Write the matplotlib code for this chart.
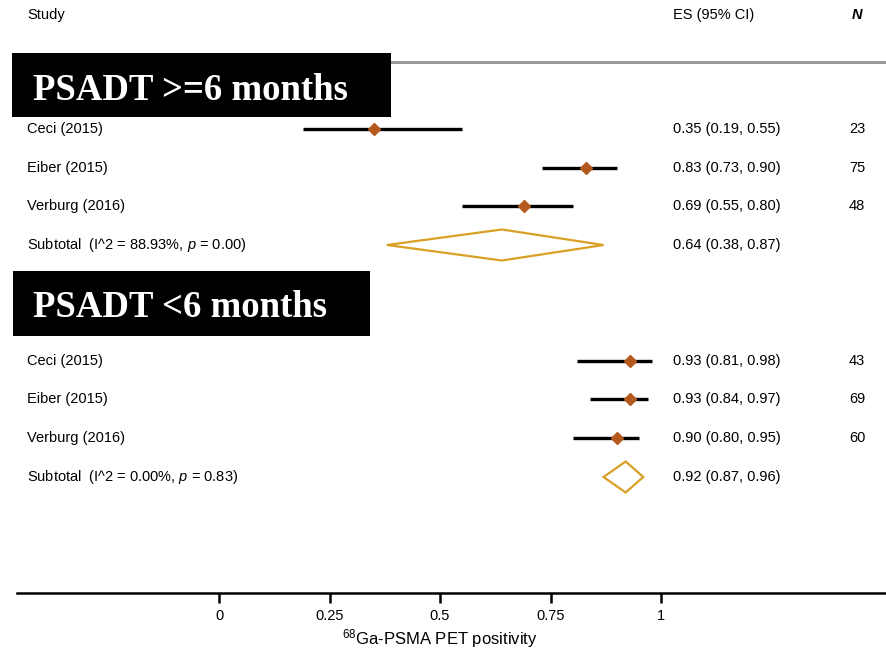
import matplotlib
matplotlib.use('Agg')
import matplotlib.pyplot as plt
from matplotlib.patches import Polygon, Rectangle

# ---------------- data ----------------
group_titles = ['PSADT >=6 months', 'PSADT <6 months']
studies = ['Ceci (2015)', 'Eiber (2015)', 'Verburg (2016)']

es_g1 = [0.35, 0.83, 0.69]
lo_g1 = [0.19, 0.73, 0.55]
hi_g1 = [0.55, 0.90, 0.80]
n_g1 = [23, 75, 48]
sub_g1 = [0.64, 0.38, 0.87]          # ES, lower, upper
het_g1 = ['88.93%', '0.00']          # I^2, p

es_g2 = [0.93, 0.93, 0.90]
lo_g2 = [0.81, 0.84, 0.80]
hi_g2 = [0.98, 0.97, 0.95]
n_g2 = [43, 69, 60]
sub_g2 = [0.92, 0.87, 0.96]
het_g2 = ['0.00%', '0.83']

xticks = [0, 0.25, 0.5, 0.75, 1]
xtick_labels = ['0', '0.25', '0.5', '0.75', '1']
x_label = r'$^{\mathrm{68}}$Ga-PSMA PET positivity'

# ---------------- style / layout ----------------
plt.rcParams['font.family'] = ['Liberation Sans', 'DejaVu Sans']
plt.rcParams['mathtext.fontset'] = 'custom'
plt.rcParams['mathtext.rm'] = 'Liberation Sans'
plt.rcParams['mathtext.it'] = 'Liberation Sans:italic'

W, H = 887, 652
PX0, PX1 = 219, 661          # pixel positions of 0 and 1 on the x scale
SCALE = PX1 - PX0

def X(px):
    return (px - PX0) / SCALE

fig = plt.figure(figsize=(W / 100, H / 100), dpi=100)
ax = fig.add_axes([0, 0, 1, 1])
ax.set_xlim(X(0), X(W))
ax.set_ylim(H, 0)
for s in ['top', 'left', 'right']:
    ax.spines[s].set_visible(False)
ax.set_yticks([])

FS = 10.5
brown = '#B55A1E'
gold = '#D9A023'

# header
ax.text(X(27), 15, 'Study', fontsize=FS, va='center', ha='left')
ax.text(X(673), 15, 'ES (95% CI)', fontsize=FS, va='center', ha='left')
ax.text(X(857), 15, 'N', fontsize=FS, va='center', ha='center', style='italic',
        fontweight='bold')
ax.plot([X(12), X(W)], [62, 62], color='#9a9a9a', lw=2.2, zorder=1, solid_capstyle='butt')

groups = [
    (group_titles[0], es_g1, lo_g1, hi_g1, n_g1, sub_g1, het_g1, [129, 168, 206, 245], (12, 53, 391, 117), 100),
    (group_titles[1], es_g2, lo_g2, hi_g2, n_g2, sub_g2, het_g2, [361, 399, 438, 477], (13, 271, 370, 336), 317),
]

for title, es, lo, hi, ns, sub, het, rows, box, base in groups:
    x0, y0, x1, y1 = box
    ax.add_patch(Rectangle((X(x0), y0), X(x1) - X(x0), y1 - y0, facecolor='black',
                           edgecolor='none', zorder=5))
    ax.text(X(33), base, title, fontsize=26.5, color='white', fontweight='bold',
            family=['Liberation Serif', 'DejaVu Serif'], va='baseline', ha='left', zorder=6)
    for i, name in enumerate(studies):
        y = rows[i]
        ax.text(X(27), y, name, fontsize=FS, va='center', ha='left')
        ax.plot([lo[i], hi[i]], [y, y], color='black', lw=2.4, solid_capstyle='butt', zorder=3)
        ax.plot([es[i]], [y], marker='D', ms=6.3, color=brown, mec=brown, zorder=4)
        ax.text(X(673), y, f'{es[i]:.2f} ({lo[i]:.2f}, {hi[i]:.2f})', fontsize=FS,
                va='center', ha='left')
        ax.text(X(857), y, str(ns[i]), fontsize=FS, va='center', ha='center')
    ys = rows[3]
    h = 15.5
    ax.add_patch(Polygon([(sub[1], ys), (sub[0], ys - h), (sub[2], ys), (sub[0], ys + h)],
                         closed=True, facecolor='none', edgecolor=gold, lw=1.6, zorder=3))
    ax.text(X(27), ys, rf'Subtotal  (I^2 = {het[0]}, $\it{{p}}$ = {het[1]})', fontsize=FS,
            va='center', ha='left')
    ax.text(X(673), ys, f'{sub[0]:.2f} ({sub[1]:.2f}, {sub[2]:.2f})', fontsize=FS,
            va='center', ha='left')

# x axis
ax.spines['bottom'].set_position(('data', 593))
ax.spines['bottom'].set_bounds(X(17), X(W))
ax.spines['bottom'].set_linewidth(1.8)
ax.set_xticks(xticks)
ax.set_xticklabels(xtick_labels, fontsize=FS)
ax.tick_params(axis='x', direction='out', length=7.5, width=1.8, pad=4)
ax.text(0.5, 639, x_label, fontsize=12, ha='center', va='center')

fig.savefig('out.png', dpi=100)
